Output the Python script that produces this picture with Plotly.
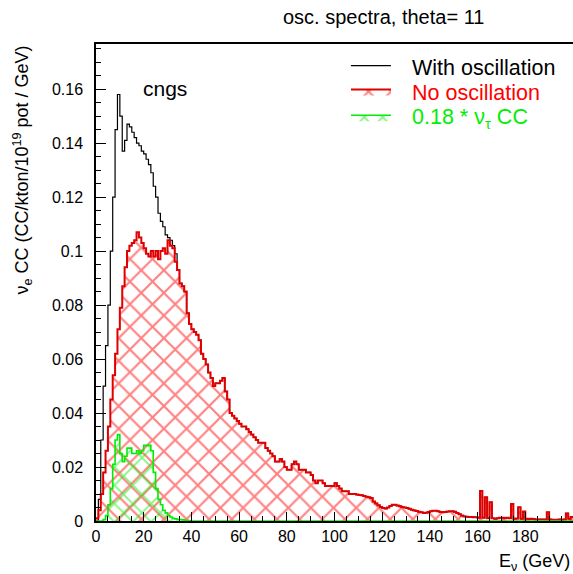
import plotly.graph_objects as go

# 1 GeV bins from 0 to 200 GeV
bin_edges = list(range(0, 201))

# No oscillation (nu_e CC), bins 0..199
no_osc = [
    0.001, 0.004, 0.010, 0.018, 0.026, 0.035, 0.045, 0.054, 0.062, 0.071,
    0.079, 0.087, 0.094, 0.100, 0.102, 0.103, 0.104, 0.107, 0.105, 0.103,
    0.101, 0.099, 0.098, 0.100, 0.098, 0.100, 0.097, 0.100, 0.101, 0.099,
    0.104, 0.102, 0.101, 0.096, 0.093, 0.088, 0.087, 0.085, 0.077, 0.073,
    0.071, 0.070, 0.069, 0.067, 0.062, 0.060, 0.058, 0.055, 0.053, 0.050,
    0.051, 0.051, 0.052, 0.053, 0.048, 0.045, 0.040, 0.039, 0.038, 0.037,
    0.036, 0.035, 0.035, 0.034, 0.033, 0.032, 0.031, 0.030, 0.029, 0.029,
    0.029, 0.027, 0.026, 0.025, 0.024, 0.022, 0.022, 0.023, 0.022, 0.020,
    0.019, 0.019, 0.021, 0.022, 0.021, 0.019, 0.019, 0.019, 0.018, 0.018,
    0.017, 0.015, 0.014, 0.015, 0.015, 0.014, 0.013, 0.013, 0.013, 0.013,
    0.014, 0.013, 0.012, 0.011, 0.011, 0.011, 0.010, 0.010, 0.010, 0.0098,
    0.0096, 0.0095, 0.0093, 0.0090, 0.0088, 0.0085, 0.0072, 0.0065, 0.0058, 0.0052,
    0.0048, 0.0046, 0.0050, 0.0056, 0.0060, 0.0060, 0.0057, 0.0055, 0.0052, 0.0050,
    0.0048, 0.0045, 0.0042, 0.0039, 0.0037, 0.0034, 0.0032, 0.0030, 0.0031, 0.0033,
    0.0036, 0.0038, 0.0038, 0.0036, 0.0033, 0.0032, 0.0033, 0.0035, 0.0036, 0.0036,
    0.0034, 0.0030, 0.0025, 0.0020, 0.0017, 0.0016, 0.0015, 0.0015, 0.0014, 0.0014,
    0.0012, 0.0111, 0.0012, 0.0088, 0.0010, 0.0069, 0.0010, 0.0008, 0.0010, 0.0012,
    0.0012, 0.0010, 0.0012, 0.0010, 0.0063, 0.0008, 0.0009, 0.0051, 0.0008, 0.0035,
    0.0008, 0.0007, 0.0008, 0.0007, 0.0006, 0.0006, 0.0006, 0.0006, 0.0006, 0.0032,
    0.0006, 0.0005, 0.0005, 0.0005, 0.0006, 0.0005, 0.0006, 0.0028, 0.0008, 0.0015,
]

# With oscillation: differs from no_osc only in the first 34 bins
with_osc_low = [
    0.000, 0.008, 0.030, 0.050, 0.065, 0.080, 0.100, 0.120, 0.145, 0.158,
    0.150, 0.137, 0.141, 0.147, 0.146, 0.144, 0.142, 0.140, 0.139, 0.137,
    0.136, 0.134, 0.132, 0.129, 0.124, 0.120, 0.114, 0.111, 0.109, 0.106,
    0.105, 0.104, 0.102, 0.099,
]

# 0.18 * nu_tau CC, bins 0..39 (zero beyond)
tau_cc = [
    0.0, 0.0, 0.0, 0.0005, 0.002, 0.006, 0.012, 0.021, 0.030, 0.032,
    0.025, 0.022, 0.024, 0.027, 0.027, 0.025, 0.025, 0.026, 0.025, 0.026,
    0.028, 0.028, 0.028, 0.026, 0.018, 0.012, 0.008, 0.006, 0.004, 0.003,
    0.002, 0.0015, 0.001, 0.0008, 0.0005, 0.0005, 0.0004, 0.0003, 0.0002, 0.0001,
]

legend_labels = ["With oscillation", "No oscillation", "0.18 * ν<sub>τ</sub> CC"]
legend_colors = ["black", "#ff0000", "#00ee00"]

with_osc = with_osc_low + no_osc[len(with_osc_low):]
tau_full = tau_cc + [0.0] * (200 - len(tau_cc))

x_tick_vals = [0, 20, 40, 60, 80, 100, 120, 140, 160, 180]
y_tick_vals = [0, 0.02, 0.04, 0.06, 0.08, 0.1, 0.12, 0.14, 0.16]


def step(vals):
    return vals + [vals[-1]]


FONT = "Liberation Sans, Arial, sans-serif"
BLANK = "\u00a0"

fig = go.Figure()

fig.add_trace(go.Scatter(
    x=bin_edges, y=step(with_osc), mode="lines", line_shape="hv",
    line=dict(color="black", width=1.2), name=BLANK,
))
fig.add_trace(go.Scatter(
    x=bin_edges, y=step(no_osc), mode="lines", line_shape="hv",
    line=dict(color="#e00000", width=2), fill="tozeroy",
    fillcolor="rgba(0,0,0,0)",
    fillpattern=dict(shape="x", size=16, solidity=0.24,
                     fgcolor="#ff0000", bgcolor="rgba(0,0,0,0)"),
    name=BLANK,
))
fig.add_trace(go.Scatter(
    x=bin_edges, y=step(tau_full), mode="lines", line_shape="hv",
    line=dict(color="#00ee00", width=1.6), fill="tozeroy",
    fillcolor="rgba(0,0,0,0)",
    fillpattern=dict(shape="x", size=13, solidity=0.26,
                     fgcolor="#00ee00", bgcolor="rgba(0,0,0,0)"),
    name=BLANK,
))

fig.update_layout(
    width=573, height=574,
    margin=dict(l=96, r=0, t=44, b=53),
    paper_bgcolor="white", plot_bgcolor="white",
    font=dict(family=FONT, size=16, color="black"),
    showlegend=True,
    legend=dict(x=0.524, y=0.992, xanchor="left", yanchor="top",
                bgcolor="rgba(0,0,0,0)", font=dict(size=17.5, family=FONT),
                tracegroupgap=0, itemwidth=40),
    xaxis=dict(range=[0, 200], tickvals=x_tick_vals, ticks="inside",
               ticklen=9, tickwidth=1, tickcolor="black",
               minor=dict(dtick=5, ticks="inside", ticklen=5, tickcolor="black"),
               showgrid=False, zeroline=False, showline=True, linecolor="black",
               linewidth=1.5, mirror=True, tickfont=dict(size=16)),
    yaxis=dict(range=[0, 0.1767], tickvals=y_tick_vals, ticks="inside",
               ticklen=10, tickwidth=1, tickcolor="black",
               minor=dict(dtick=0.005, ticks="inside", ticklen=5, tickcolor="black"),
               showgrid=False, zeroline=False, showline=True, linecolor="black",
               linewidth=1.5, mirror=False, tickfont=dict(size=16),
               ticklabelstandoff=8),
)

# legend texts (coloured) placed next to the legend symbols
for i, (lab, col) in enumerate(zip(legend_labels, legend_colors)):
    fig.add_annotation(text=lab, xref="paper", yref="paper",
                       x=(410 - 96) / 477, y=(521 - (68 + 25 * i)) / 477,
                       xanchor="left", yanchor="middle", showarrow=False,
                       font=dict(size=21.5, family=FONT, color=col))

fig.add_annotation(text="osc. spectra, theta= 11", xref="paper", yref="paper",
                   x=0.602, y=1.057, showarrow=False, xanchor="center",
                   yanchor="middle", font=dict(size=20, family=FONT))
fig.add_annotation(text="ν<sub>e</sub> CC (CC/kton/10<sup>19</sup> pot / GeV)",
                   xref="paper", yref="paper", x=-0.155, y=1.0,
                   xanchor="center", yanchor="top", textangle=-90,
                   showarrow=False, font=dict(size=18, family=FONT))
fig.add_annotation(text="E<sub>ν</sub> (GeV)", xref="paper", yref="paper",
                   x=0.997, y=-0.088, xanchor="right", yanchor="middle",
                   showarrow=False, font=dict(size=18, family=FONT))
fig.add_annotation(text="cngs", xref="paper", yref="paper",
                   x=0.145, y=0.907, xanchor="center", yanchor="middle",
                   showarrow=False, font=dict(size=21, family=FONT))

fig.write_html("out.html")
